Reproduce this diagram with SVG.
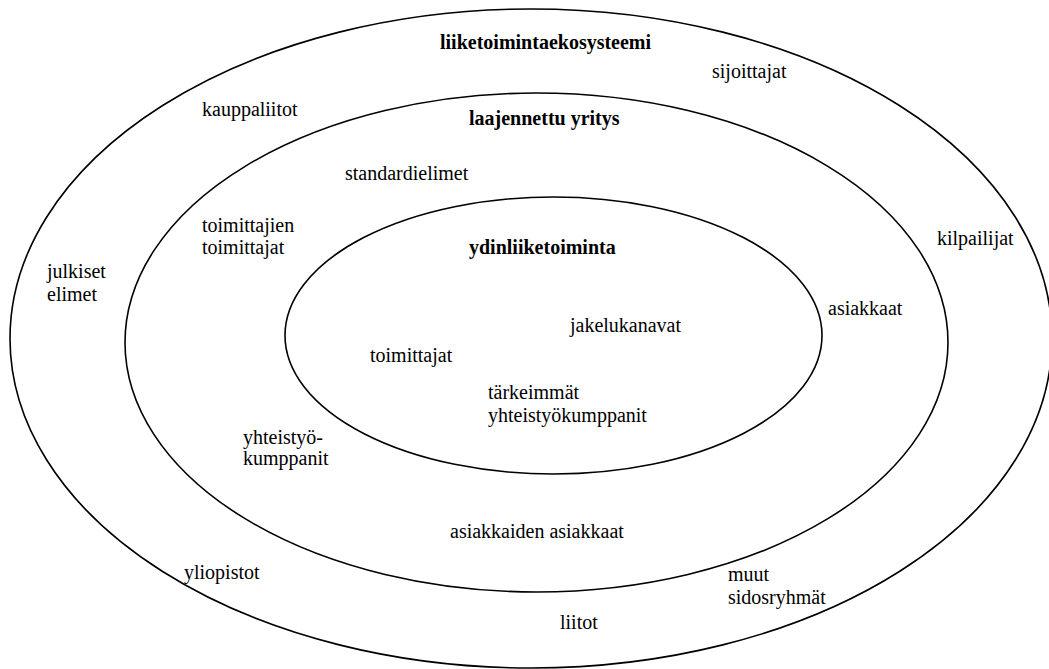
<svg xmlns="http://www.w3.org/2000/svg" width="1049" height="669" viewBox="0 0 1049 669">
  <style>
    .ring { fill: none; stroke: #000; stroke-width: 1.6; }
    .label { font-family: 'Liberation Serif', 'Times New Roman', Times, 'DejaVu Serif', serif; font-size: 20px; fill: #000; }
    .title { font-weight: bold; }
  </style>
  <rect width="1049" height="669" fill="#fff"/>

  <!-- outer ring: business ecosystem -->
  <g id="ecosystem">
    <ellipse class="ring" cx="531" cy="338.5" rx="521" ry="329.5"/>
    <text class="label title" x="440" y="49">liiketoimintaekosysteemi</text>
    <text class="label" x="712" y="78">sijoittajat</text>
    <text class="label" x="202" y="116">kauppaliitot</text>
    <text class="label" x="937" y="245">kilpailijat</text>
    <text class="label" x="47" y="278">julkiset</text>
    <text class="label" x="47" y="301">elimet</text>
    <text class="label" x="184" y="579">yliopistot</text>
    <text class="label" x="728" y="581">muut</text>
    <text class="label" x="728" y="604">sidosryhmät</text>
    <text class="label" x="560" y="629">liitot</text>
  </g>

  <!-- middle ring: extended enterprise -->
  <g id="extended-enterprise">
    <ellipse class="ring" cx="536.5" cy="342.5" rx="411.5" ry="249.5"/>
    <text class="label title" x="469" y="125">laajennettu yritys</text>
    <text class="label" x="345" y="180">standardielimet</text>
    <text class="label" x="202" y="232">toimittajien</text>
    <text class="label" x="202" y="254">toimittajat</text>
    <text class="label" x="828" y="315">asiakkaat</text>
    <text class="label" x="243" y="444">yhteistyö-</text>
    <text class="label" x="243" y="465">kumppanit</text>
    <text class="label" x="450" y="538">asiakkaiden asiakkaat</text>
  </g>

  <!-- inner ring: core business -->
  <g id="core-business">
    <ellipse class="ring" cx="553.5" cy="335.5" rx="268.5" ry="138.5"/>
    <text class="label title" x="469" y="254">ydinliiketoiminta</text>
    <text class="label" x="570" y="332">jakelukanavat</text>
    <text class="label" x="370" y="362">toimittajat</text>
    <text class="label" x="488" y="399">tärkeimmät</text>
    <text class="label" x="488" y="422">yhteistyökumppanit</text>
  </g>

  <g id="connectors"/>
</svg>
